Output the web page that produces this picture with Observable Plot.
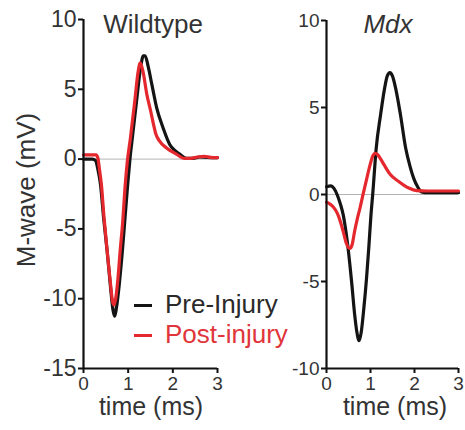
<!DOCTYPE html>
<html>
<head>
<meta charset="utf-8">
<script src="https://cdn.jsdelivr.net/npm/d3@7"></script>
<script src="https://cdn.jsdelivr.net/npm/@observablehq/plot@0.6"></script>
<style>
  html, body { margin: 0; padding: 0; background: #fff; }
  #fig { position: relative; width: 465px; height: 430px; overflow: hidden;
         font-family: "Liberation Sans", Arial, Helvetica, sans-serif; color: #333; }
  #fig svg { position: absolute; top: 0; overflow: visible; background: transparent; }
  .txt { position: absolute; white-space: nowrap; line-height: 26px; }
  .center { transform: translateX(-50%); }
  .swatch { position: absolute; height: 3px; width: 18px; }
</style>
</head>
<body>
<div id="fig"></div>
<script>
// M-wave traces, [time (ms), amplitude (mV)]
const wildtypePre = [
  [0, 0], [0.2, 0], [0.27, -0.1], [0.32, -0.7], [0.38, -1.8], [0.45, -4.2], [0.53, -6.6],
  [0.6, -9.0], [0.66, -10.8], [0.7, -11.25], [0.74, -10.6], [0.8, -9.0], [0.87, -6.6],
  [0.93, -4.2], [0.99, -1.8], [1.04, 0], [1.1, 1.7], [1.2, 4.5], [1.28, 6.6], [1.34, 7.4],
  [1.38, 7.4], [1.45, 6.6], [1.53, 5.35], [1.64, 3.65], [1.78, 2.25], [1.93, 1.05],
  [2.05, 0.6], [2.16, 0.35], [2.3, 0.05], [2.45, 0.05], [2.6, 0.15], [2.75, 0.12], [2.9, 0.1], [3.0, 0.1]
];
const wildtypePost = [
  [0, 0.3], [0.28, 0.3], [0.32, 0.1], [0.36, -0.8], [0.4, -1.8], [0.46, -4.2], [0.53, -6.6],
  [0.6, -8.8], [0.65, -10.2], [0.68, -10.45], [0.72, -10.0], [0.77, -8.6], [0.82, -6.6],
  [0.88, -4.4], [0.93, -2.0], [0.98, -0.2], [1.05, 1.5], [1.15, 4.2], [1.22, 6.2], [1.27, 6.9],
  [1.33, 6.3], [1.42, 4.6], [1.5, 3.5], [1.56, 2.6], [1.62, 1.8], [1.7, 1.3], [1.86, 0.8],
  [2.08, 0.35], [2.25, 0.05], [2.4, 0.05], [2.55, 0.15], [2.7, 0.2], [2.85, 0.12], [3.0, 0.1]
];
const mdxPre = [
  [0, 0.45], [0.1, 0.5], [0.17, 0.35], [0.24, 0], [0.31, -0.5], [0.38, -1.17], [0.44, -2.1],
  [0.49, -3.08], [0.57, -5.0], [0.64, -6.9], [0.69, -7.9], [0.74, -8.4], [0.79, -7.9],
  [0.85, -6.5], [0.91, -4.8], [0.96, -3.1], [1.01, -1.2], [1.05, 0], [1.13, 2.66], [1.23, 4.6],
  [1.32, 6.1], [1.38, 6.8], [1.44, 7.0], [1.5, 6.8], [1.58, 6.0], [1.68, 4.6], [1.8, 2.66],
  [1.9, 1.6], [1.98, 0.94], [2.08, 0.4], [2.16, 0.15], [2.3, 0.1], [2.6, 0.1], [3.0, 0.1]
];
const mdxPost = [
  [0, -0.45], [0.08, -0.55], [0.15, -0.7], [0.25, -1.1], [0.32, -1.6], [0.38, -2.13],
  [0.45, -2.8], [0.53, -3.1], [0.58, -2.9], [0.64, -2.1], [0.7, -1.4], [0.76, -0.79],
  [0.83, 0], [0.9, 0.75], [0.99, 1.7], [1.05, 2.2], [1.1, 2.37], [1.16, 2.3], [1.24, 2.0],
  [1.31, 1.7], [1.45, 1.15], [1.64, 0.75], [1.87, 0.37], [2.05, 0.22], [2.3, 0.2], [2.6, 0.2], [3.0, 0.2]
];

const timeTicks = [0, 1, 2, 3];
const wildtypeTicks = [-15, -10, -5, 0, 5, 10];
const mdxTicks = [-10, -5, 0, 5, 10];
const seriesNames = ["Pre-Injury", "Post-injury"];
const seriesColors = ["#141414", "#e5272e"];
const panelTitles = ["Wildtype", "Mdx"];

const toRows = (pairs) => pairs.map(([t, v]) => ({t, v}));

function panel({pre, post, yDomain, yTicks, width, marginLeft, marginRight, marginTop, yFont}) {
  return Plot.plot({
    width, height: 430,
    marginLeft, marginRight, marginTop, marginBottom: 62,
    x: {domain: [0, 3], ticks: timeTicks},
    y: {domain: yDomain, ticks: yTicks},
    style: {background: "transparent", overflow: "visible",
            fontFamily: '"Liberation Sans", Arial, Helvetica, sans-serif'},
    marks: [
      Plot.ruleY([0], {stroke: "#b4b4b4", strokeWidth: 1}),
      Plot.line(toRows(pre), {x: "t", y: "v", stroke: seriesColors[0], strokeWidth: 3.2, curve: "monotone-x"}),
      Plot.line(toRows(post), {x: "t", y: "v", stroke: seriesColors[1], strokeWidth: 3.2, curve: "monotone-x"}),
      Plot.ruleX([0], {stroke: "#111", strokeWidth: 2.2}),
      Plot.ruleY([yDomain[0]], {stroke: "#111", strokeWidth: 2.2}),
      Plot.axisY({ticks: yTicks, tickSize: 5, tickPadding: 2, tickFormat: (d) => String(d),
                  label: null, fontSize: yFont, stroke: "#111", strokeWidth: 2, fill: "#333"}),
      Plot.axisX({ticks: timeTicks, tickSize: 5, tickPadding: 3, tickFormat: (d) => String(d),
                  label: null, fontSize: 19, stroke: "#111", strokeWidth: 2, fill: "#333"})
    ]
  });
}

const fig = document.getElementById("fig");

const left = panel({pre: wildtypePre, post: wildtypePost, yDomain: [-15, 10], yTicks: wildtypeTicks,
                    width: 240, marginLeft: 83, marginRight: 23, marginTop: 19, yFont: 23});
left.style.left = "0px";
fig.appendChild(left);

const right = panel({pre: mdxPre, post: mdxPost, yDomain: [-10, 10], yTicks: mdxTicks,
                     width: 225, marginLeft: 86, marginRight: 7, marginTop: 20, yFont: 19});
right.style.left = "240px";
fig.appendChild(right);

function addText(text, left, top, opts = {}) {
  const el = document.createElement("div");
  el.className = "txt" + (opts.center ? " center" : "");
  el.textContent = text;
  el.style.left = left + "px";
  el.style.top = top + "px";
  el.style.fontSize = (opts.size || 26) + "px";
  if (opts.color) el.style.color = opts.color;
  if (opts.italic) el.style.fontStyle = "italic";
  fig.appendChild(el);
  return el;
}

// panel titles
addText(panelTitles[0], 153, 11, {center: true});
addText(panelTitles[1], 388, 11, {center: true, italic: true});

// x-axis titles
addText("time (ms)", 151, 393, {center: true, size: 25});
addText("time (ms)", 395, 393, {center: true, size: 25});

// y-axis title, rotated
const yl = addText("M-wave (mV)", 26, 190, {size: 26});
yl.style.transform = "translate(-50%, -50%) rotate(-90deg)";

// legend
seriesNames.forEach((name, i) => {
  const sw = document.createElement("div");
  sw.className = "swatch";
  sw.style.left = "134px";
  sw.style.top = (304 + i * 30) + "px";
  sw.style.background = seriesColors[i];
  fig.appendChild(sw);
  addText(name, 165, 291 + i * 30, {color: i === 0 ? "#2a2a2a" : "#e0353a"});
});
</script>
</body>
</html>
